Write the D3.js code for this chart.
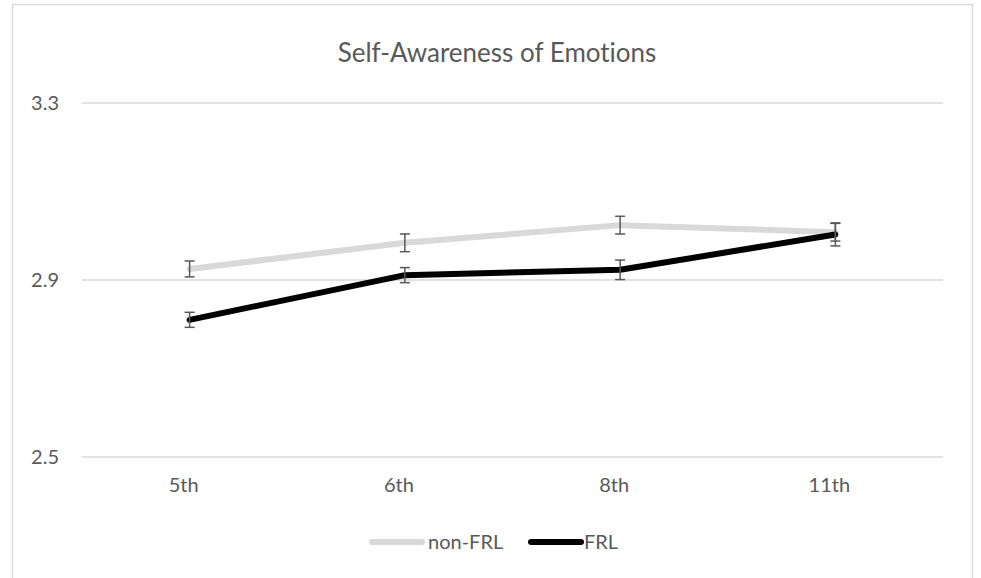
<!DOCTYPE html>
<html>
<head>
<meta charset="utf-8">
<script src="https://cdn.jsdelivr.net/npm/d3@7"></script>
<style>
  body { margin: 0; background: #fff; }
  svg { display: block; font-family: Lato, "Open Sans", sans-serif; font-variant-ligatures: none; }
</style>
</head>
<body>
<svg id="chart" width="981" height="578"></svg>
<script>
const grades = ["5th", "6th", "8th", "11th"];
const yTicks = [2.5, 2.9, 3.3];
const nonFrl = [2.925, 2.984, 3.024, 3.008];
const nonFrlErr = [0.018, 0.02, 0.02, 0.02];
const frl = [2.81, 2.911, 2.923, 3.003];
const frlErr = [0.017, 0.017, 0.022, 0.026];

const series = [
  { name: "non-FRL", values: nonFrl, err: nonFrlErr, color: "#d9d9d9" },
  { name: "FRL", values: frl, err: frlErr, color: "#000000" }
];

const svg = d3.select("#chart");
const width = 981, height = 578;
const margin = { top: 103, right: 38, bottom: 121, left: 82 };

// chart border
svg.append("rect")
  .attr("x", 12.5).attr("y", 4.5)
  .attr("width", 960).attr("height", 600)
  .attr("fill", "none")
  .attr("stroke", "#d9d9d9")
  .attr("stroke-width", 1.5);

const x = d3.scaleBand()
  .domain(grades)
  .range([margin.left, width - margin.right]);

const y = d3.scaleLinear()
  .domain([2.5, 3.3])
  .range([height - margin.bottom, margin.top]);

// gridlines
svg.append("g")
  .selectAll("line")
  .data(yTicks)
  .join("line")
  .attr("x1", margin.left)
  .attr("x2", width - margin.right)
  .attr("y1", d => y(d))
  .attr("y2", d => y(d))
  .attr("stroke", "#d9d9d9")
  .attr("stroke-width", 1.5);

// y labels
svg.append("g")
  .selectAll("text")
  .data(yTicks)
  .join("text")
  .attr("x", 59)
  .attr("y", d => y(d))
  .attr("dy", "0.35em")
  .attr("text-anchor", "end")
  .attr("fill", "#595959")
  .style("font-size", "20px")
  .text(d => d.toFixed(1));

// x labels
svg.append("g")
  .selectAll("text")
  .data(grades)
  .join("text")
  .attr("x", d => x(d) + x.bandwidth() / 2 - 6)
  .attr("y", y(2.5) + 35)
  .attr("text-anchor", "middle")
  .attr("fill", "#595959")
  .style("font-size", "20px")
  .text(d => d);

// title
svg.append("text")
  .attr("x", 497)
  .attr("y", 62)
  .attr("text-anchor", "middle")
  .attr("fill", "#595959")
  .style("font-size", "26px")
  .text("Self-Awareness of Emotions");

const cx = (i) => x(grades[i]) + x.bandwidth() / 2;

const line = d3.line()
  .x((d, i) => cx(i))
  .y(d => y(d));

series.forEach(s => {
  svg.append("path")
    .datum(s.values)
    .attr("d", line)
    .attr("fill", "none")
    .attr("stroke", s.color)
    .attr("stroke-width", 6)
    .attr("stroke-linecap", "round")
    .attr("stroke-linejoin", "round");
});

// error bars
series.forEach(s => {
  const g = svg.append("g")
    .attr("stroke", "#595959")
    .attr("stroke-width", 1.5);
  s.values.forEach((v, i) => {
    const lo = y(v - s.err[i]), hi = y(v + s.err[i]);
    g.append("line").attr("x1", cx(i)).attr("x2", cx(i)).attr("y1", lo).attr("y2", hi);
    g.append("line").attr("x1", cx(i) - 5).attr("x2", cx(i) + 5).attr("y1", lo).attr("y2", lo);
    g.append("line").attr("x1", cx(i) - 5).attr("x2", cx(i) + 5).attr("y1", hi).attr("y2", hi);
  });
});

// legend
const legend = [
  { s: series[0], x1: 372, x2: 422, tx: 428 },
  { s: series[1], x1: 531, x2: 581, tx: 584 }
];
legend.forEach(l => {
  svg.append("line")
    .attr("x1", l.x1).attr("x2", l.x2)
    .attr("y1", 542).attr("y2", 542)
    .attr("stroke", l.s.color)
    .attr("stroke-width", 6)
    .attr("stroke-linecap", "round");
  svg.append("text")
    .attr("x", l.tx)
    .attr("y", 542)
    .attr("dy", "0.35em")
    .attr("fill", "#595959")
    .style("font-size", "20px")
    .text(l.s.name);
});
</script>
</body>
</html>
